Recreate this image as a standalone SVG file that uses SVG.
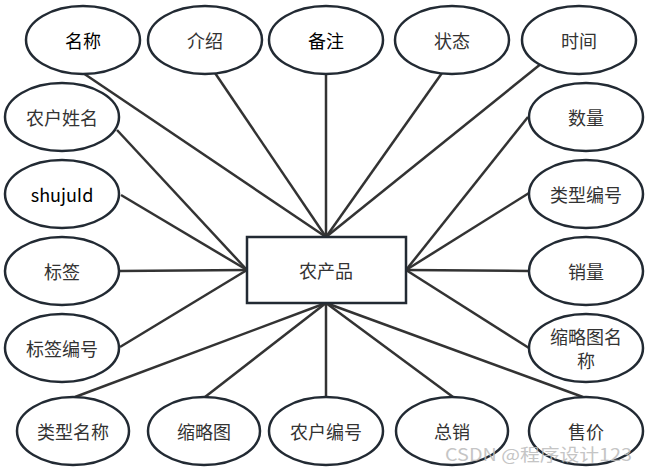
<svg xmlns="http://www.w3.org/2000/svg" width="648" height="472" viewBox="0 0 648 472">
<style>
.e{fill:#fff;stroke:#222a33;stroke-width:2.5}
.r{fill:#fff;stroke:#222a33;stroke-width:2.5}
.c line{stroke:#333;stroke-width:2.5}
text{font-family:"Noto Sans CJK SC","Liberation Sans",sans-serif;font-size:18px;fill:#333;text-anchor:middle;dominant-baseline:central}
.d{fill:#000}
.w{fill:#bbb;opacity:0.85;font-size:17px;text-anchor:start}
</style>
<rect width="648" height="472" fill="#fff"/>
<g class="c" id="connectors">
<line x1="83" y1="73" x2="326" y2="237"/>
<line x1="215" y1="73" x2="326" y2="237"/>
<line x1="326" y1="73" x2="326" y2="237"/>
<line x1="442" y1="73" x2="326" y2="237"/>
<line x1="542" y1="63" x2="326" y2="237"/>
<line x1="117" y1="130" x2="247" y2="270"/>
<line x1="121" y1="195" x2="247" y2="270"/>
<line x1="119" y1="271" x2="247" y2="270"/>
<line x1="120" y1="347" x2="247" y2="270"/>
<line x1="528" y1="117" x2="406" y2="270"/>
<line x1="529" y1="193" x2="406" y2="270"/>
<line x1="529" y1="271" x2="406" y2="270"/>
<line x1="529" y1="348" x2="406" y2="270"/>
<line x1="75" y1="397" x2="326" y2="303"/>
<line x1="205" y1="397" x2="326" y2="303"/>
<line x1="326" y1="397" x2="326" y2="303"/>
<line x1="453" y1="397" x2="326" y2="303"/>
<line x1="583" y1="397" x2="326" y2="303"/>
</g>
<g id="center"><rect class="r" x="247" y="237" width="159" height="66"/><text x="326" y="270">农产品</text></g>
<g id="mingcheng"><ellipse class="e" cx="83" cy="40" rx="57" ry="34"/><text class="d" x="83" y="40">名称</text></g>
<g id="jieshao"><ellipse class="e" cx="205" cy="40" rx="57" ry="34"/><text x="205" y="40">介绍</text></g>
<g id="beizhu"><ellipse class="e" cx="326" cy="40" rx="57" ry="34"/><text class="d" x="326" y="40">备注</text></g>
<g id="zhuangtai"><ellipse class="e" cx="452" cy="40" rx="57" ry="34"/><text x="452" y="40">状态</text></g>
<g id="shijian"><ellipse class="e" cx="579" cy="40" rx="57" ry="34"/><text x="579" y="40">时间</text></g>
<g id="nonghuxingming"><ellipse class="e" cx="62" cy="117" rx="57" ry="34"/><text x="62" y="117">农户姓名</text></g>
<g id="shujuid"><ellipse class="e" cx="62" cy="194" rx="57" ry="34"/><text class="d" x="62" y="194">shujuId</text></g>
<g id="biaoqian"><ellipse class="e" cx="62" cy="271" rx="57" ry="34"/><text x="62" y="271">标签</text></g>
<g id="biaoqianbianhao"><ellipse class="e" cx="62" cy="348" rx="57" ry="34"/><text x="62" y="348">标签编号</text></g>
<g id="shuliang"><ellipse class="e" cx="586" cy="117" rx="57" ry="34"/><text x="586" y="117">数量</text></g>
<g id="leixingbianhao"><ellipse class="e" cx="586" cy="194" rx="57" ry="34"/><text x="586" y="194">类型编号</text></g>
<g id="xiaoliang"><ellipse class="e" cx="586" cy="271" rx="57" ry="34"/><text x="586" y="271">销量</text></g>
<g id="suolvetumingcheng"><ellipse class="e" cx="586" cy="348" rx="57" ry="34"/><text x="586" y="336">缩略图名</text><text x="586" y="360">称</text></g>
<g id="leixingmingcheng"><ellipse class="e" cx="73" cy="431" rx="56" ry="34"/><text x="73" y="431">类型名称</text></g>
<g id="suolvetu"><ellipse class="e" cx="204" cy="431" rx="56" ry="34"/><text x="204" y="431">缩略图</text></g>
<g id="nonghubianhao"><ellipse class="e" cx="326" cy="431" rx="57" ry="34"/><text x="326" y="431">农户编号</text></g>
<g id="zongxiao"><ellipse class="e" cx="452" cy="431" rx="56" ry="34"/><text x="452" y="431">总销</text></g>
<g id="shoujia"><ellipse class="e" cx="586" cy="431" rx="57" ry="34"/><text x="586" y="431">售价</text></g>
<text class="w" x="445" y="453" textLength="187" lengthAdjust="spacingAndGlyphs">CSDN @程序设计123</text>
</svg>
